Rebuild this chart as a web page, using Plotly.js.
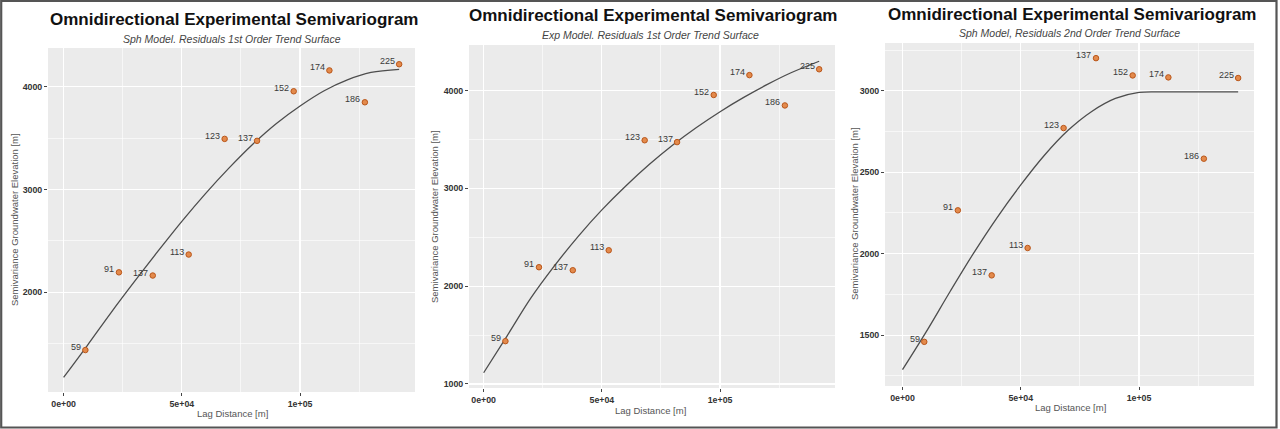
<!DOCTYPE html>
<html>
<head>
<meta charset="utf-8">
<script src="https://cdn.plot.ly/plotly-3.0.1.min.js"></script>
<style>
  html, body { margin: 0; padding: 0; background: #ffffff; }
  #chart { width: 1280px; height: 429px; }
</style>
</head>
<body>
<div id="chart"></div>
<script>
// ---- Data ----
const lagDistance = [9200, 23400, 37700, 52900, 68100, 81800, 97300, 112400, 127400, 141900];
const pairCounts = ["59", "91", "137", "113", "123", "137", "152", "174", "186", "225"];
const gammaFirstOrder = [1438, 2194, 2163, 2367, 3492, 3473, 3955, 4158, 3848, 4218];
const gammaSecondOrder = [1459, 2266, 1867, 2035, 2771, 3200, 3094, 3082, 2583, 3078];

// fitted model curves
const curveLag = [0, 10000, 20000, 30000, 40000, 50000, 60000, 70000, 80000, 90000, 100000, 110000, 120000, 130000, 141900];
const sphFirstY = [1172, 1482, 1800, 2105, 2402, 2690, 2960, 3210, 3440, 3642, 3812, 3958, 4066, 4138, 4168];
const expFirstY = [1115, 1495, 1880, 2210, 2510, 2780, 3022, 3243, 3443, 3622, 3784, 3930, 4063, 4182, 4300];
const sphSecondY = [1288, 1520, 1765, 2002, 2222, 2422, 2604, 2757, 2873, 2953, 2990, 2993, 2993, 2993, 2993];

const panelTitle = "Omnidirectional Experimental Semivariogram";
const subtitles = [
  "Sph Model. Residuals 1st Order Trend Surface",
  "Exp Model. Residuals 1st Order Trend Surface",
  "Sph Model, Residuals 2nd Order Trend Surface"
];
const xTickVals = [0, 50000, 100000];
const xTickText = ["0e+00", "5e+04", "1e+05"];
const xMinorVals = [25000, 75000, 125000];
const yTickVals = [[2000, 3000, 4000], [1000, 2000, 3000, 4000], [1500, 2000, 2500, 3000]];
const yMinorVals = [[1500, 2500, 3500], [1500, 2500, 3500], [1250, 1750, 2250, 2750, 3250]];
const xTitle = "Lag Distance [m]";
const yTitle = "Semivariance Groundwater Elevation [m]";

// ---- Layout geometry (pixels) ----
const W = 1280, H = 429;
const px = v => v / W;
const py = v => 1 - v / H;
const FONT = "Liberation Sans, Arial, sans-serif";

const panels = [
  { l: 48, r: 415, t: 48, b: 392, xr: [-6600, 148600], yr: [1030, 4376],
    titleX: 233.5, titleY: 20, subX: 232, subY: 38.5, yTitX: 15, yTitY: 220, xTitX: 232, xTitY: 413 },
  { l: 469, r: 835, t: 45, b: 388, xr: [-6200, 148600], yr: [959, 4466],
    titleX: 653, titleY: 16, subX: 650, subY: 35, yTitX: 434, yTitY: 217, xTitX: 650, xTitY: 410 },
  { l: 885, r: 1254, t: 43, b: 386, xr: [-7400, 148600], yr: [1188, 3293],
    titleX: 1071.5, titleY: 14, subX: 1069, subY: 33, yTitX: 854, yTitY: 214, xTitX: 1070, xTitY: 407 }
];

const pointY = [gammaFirstOrder, gammaFirstOrder, gammaSecondOrder];
const curveY = [sphFirstY, expFirstY, sphSecondY];

const traces = [];
const layout = {
  width: W, height: H,
  margin: { l: 0, r: 0, t: 0, b: 0, pad: 0 },
  paper_bgcolor: "#ffffff",
  plot_bgcolor: "#EBEBEB",
  showlegend: false,
  font: { family: FONT, color: "#333" },
  annotations: [],
  shapes: [{
    type: "rect", xref: "paper", yref: "paper",
    x0: px(1.2), x1: px(1276.5), y0: py(427.5), y1: py(0.8),
    line: { color: "#555555", width: 2.2 }, fillcolor: "rgba(0,0,0,0)"
  }]
};

panels.forEach((p, i) => {
  const n = i === 0 ? "" : String(i + 1);
  const xa = "x" + n, ya = "y" + n;

  traces.push({
    type: "scatter", mode: "lines", xaxis: xa, yaxis: ya,
    x: curveLag, y: curveY[i],
    line: { color: "#4d4d4d", width: 1.3, shape: "spline", smoothing: 1 },
    hoverinfo: "skip"
  });
  traces.push({
    type: "scatter", mode: "markers", xaxis: xa, yaxis: ya,
    x: lagDistance, y: pointY[i],
    marker: { size: 5.5, color: "#E38A4C", line: { color: "#B9561A", width: 1 } },
    cliponaxis: false
  });

  // point labels (pair counts), placed left of each point
  pairCounts.forEach((t, j) => {
    layout.annotations.push({
      xref: xa, yref: ya, x: lagDistance[j], y: pointY[i][j],
      text: t, showarrow: false,
      xanchor: "right", yanchor: "middle", xshift: -2.5, yshift: 3,
      font: { family: FONT, size: 9, color: "#3a3a3a" }
    });
  });

  const gridCommon = {
    showgrid: true, gridcolor: "#ffffff", gridwidth: 1.2,
    zeroline: false, showline: false,
    ticks: "outside", ticklen: 3, tickwidth: 1, tickcolor: "#444",
    tickfont: { family: FONT, size: 8.8, color: "#333", weight: "bold" },
    fixedrange: true
  };

  layout["xaxis" + n] = Object.assign({}, gridCommon, {
    domain: [px(p.l), px(p.r)], anchor: ya,
    range: p.xr,
    tickmode: "array", tickvals: xTickVals, ticktext: xTickText,
    minor: { tickmode: "array", tickvals: xMinorVals, showgrid: true, gridcolor: "#ffffff", gridwidth: 0.6, ticks: "" }
  });
  layout["yaxis" + n] = Object.assign({}, gridCommon, {
    domain: [py(p.b), py(p.t)], anchor: xa,
    range: p.yr,
    tickmode: "array", tickvals: yTickVals[i], ticktext: yTickVals[i].map(String),
    minor: { tickmode: "array", tickvals: yMinorVals[i], showgrid: true, gridcolor: "#ffffff", gridwidth: 0.6, ticks: "" }
  });

  layout.annotations.push({
    xref: "paper", yref: "paper", x: px(p.titleX), y: py(p.titleY),
    xanchor: "center", yanchor: "middle", showarrow: false,
    text: "<b>" + panelTitle + "</b>",
    font: { family: FONT, size: 17, color: "#111" }
  });
  layout.annotations.push({
    xref: "paper", yref: "paper", x: px(p.subX), y: py(p.subY),
    xanchor: "center", yanchor: "middle", showarrow: false,
    text: "<i>" + subtitles[i] + "</i>",
    font: { family: FONT, size: 10.5, color: "#444" }
  });
  layout.annotations.push({
    xref: "paper", yref: "paper", x: px(p.xTitX), y: py(p.xTitY),
    xanchor: "center", yanchor: "middle", showarrow: false,
    text: xTitle,
    font: { family: FONT, size: 9.5, color: "#555" }
  });
  layout.annotations.push({
    xref: "paper", yref: "paper", x: px(p.yTitX), y: py(p.yTitY),
    xanchor: "center", yanchor: "middle", showarrow: false, textangle: -90,
    text: yTitle,
    font: { family: FONT, size: 9.5, color: "#555" }
  });
});

Plotly.newPlot("chart", traces, layout, { displayModeBar: false, staticPlot: true });
</script>
</body>
</html>
